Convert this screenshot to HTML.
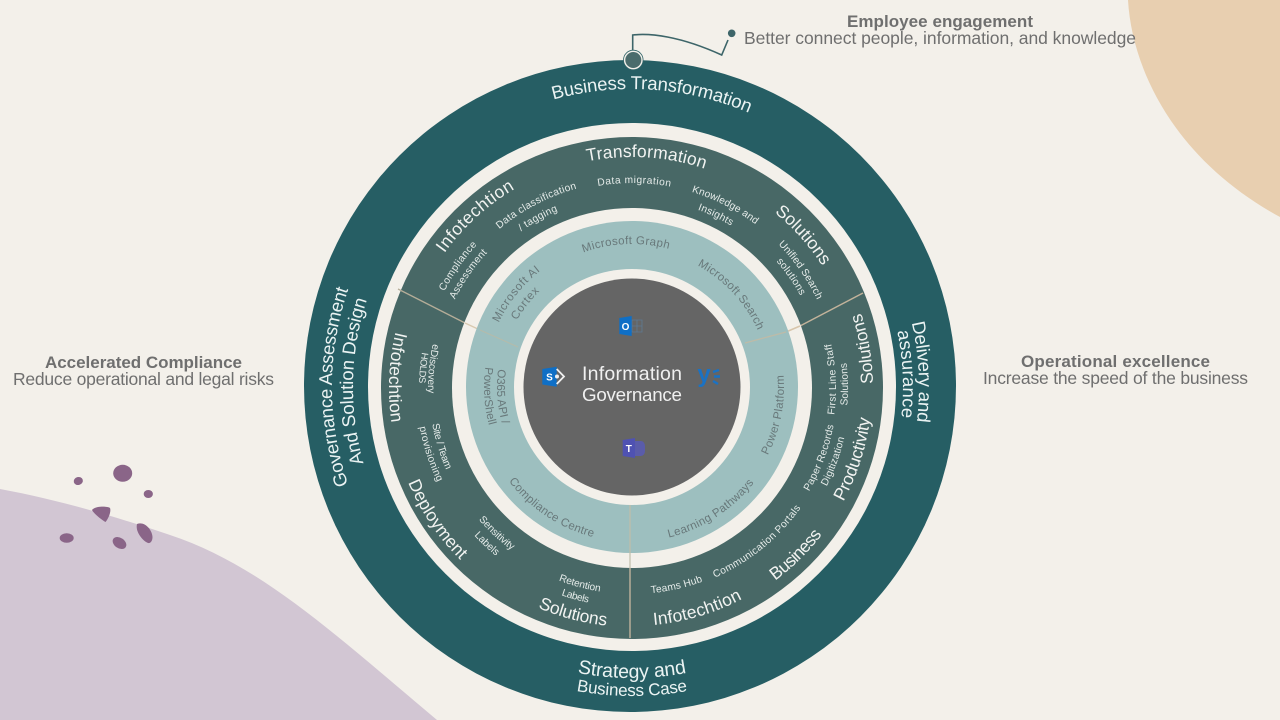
<!DOCTYPE html>
<html><head><meta charset="utf-8"><title>Information Governance</title>
<style>
html,body{margin:0;padding:0;background:#f3f0ea;width:1280px;height:720px;overflow:hidden}
svg{display:block;font-family:"Liberation Sans",sans-serif}
.m text,text.m{text-anchor:middle}
.o{fill:#eaf3f3;font-size:18.5px}
.r{fill:#f1f3f1;font-size:17.5px}
.s{fill:#e6ecea;font-size:10.2px}
.t{fill:#68787a;font-size:11.5px}
.h{fill:#6f6f6f;font-size:17px;font-weight:bold}
.d{fill:#6f6f6f;font-size:17.5px}
</style></head><body>
<svg width="1280" height="720" viewBox="0 0 1280 720" xmlns="http://www.w3.org/2000/svg">
<defs>
<path id="c298" d="M632,685A298,298 0 1 1 632,89A298,298 0 1 1 632,685"/>
<path id="c300" d="M632,687A300,300 0 1 1 632,87A300,300 0 1 1 632,687"/>
<path id="c279" d="M632,666A279,279 0 1 1 632,108A279,279 0 1 1 632,666"/>
<path id="c287" d="M632,674A287,287 0 1 1 632,100A287,287 0 1 1 632,674"/>
<path id="c271" d="M632,658A271,271 0 1 1 632,116A271,271 0 1 1 632,658"/>
<path id="c143" d="M632,530A143,143 0 1 1 632,244A143,143 0 1 1 632,530"/>
<path id="c138" d="M632,525A138,138 0 1 1 632,249A138,138 0 1 1 632,525"/>
<path id="c148" d="M632,535A148,148 0 1 1 632,239A148,148 0 1 1 632,535"/>
<path id="c133" d="M632,520A133,133 0 1 1 632,254A133,133 0 1 1 632,520"/>
<path id="a291" d="M632,96A291,291 0 1 0 632,678A291,291 0 1 0 632,96"/>
<path id="a309" d="M632,78A309,309 0 1 0 632,696A309,309 0 1 0 632,78"/>
<path id="a135" d="M632,252A135,135 0 1 0 632,522A135,135 0 1 0 632,252"/>
<path id="a148" d="M632,239A148,148 0 1 0 632,535A148,148 0 1 0 632,239"/>
<path id="a155" d="M632,232A155,155 0 1 0 632,542A155,155 0 1 0 632,232"/>
<path id="a152" d="M632,235A152,152 0 1 0 632,539A152,152 0 1 0 632,235"/>
<path id="c231" d="M632,619A231,231 0 1 1 632,157A231,231 0 1 1 632,619"/>
<path id="c226" d="M632,614A226,226 0 1 1 632,162A226,226 0 1 1 632,614"/>
<path id="c205" d="M632,593A205,205 0 1 1 632,183A205,205 0 1 1 632,593"/>
<path id="c207" d="M632,595A207,207 0 1 1 632,181A207,207 0 1 1 632,595"/>
<path id="c192" d="M632,580A192,192 0 1 1 632,196A192,192 0 1 1 632,580"/>
<path id="c211" d="M632,599A211,211 0 1 1 632,177A211,211 0 1 1 632,599"/>
<path id="c198" d="M632,586A198,198 0 1 1 632,190A198,198 0 1 1 632,586"/>
<path id="c190" d="M632,578A190,190 0 1 1 632,198A190,190 0 1 1 632,578"/>
<path id="a241" d="M632,147A241,241 0 1 0 632,629A241,241 0 1 0 632,147"/>
<path id="a240" d="M632,148A240,240 0 1 0 632,628A240,240 0 1 0 632,148"/>
<path id="a238" d="M632,150A238,238 0 1 0 632,626A238,238 0 1 0 632,150"/>
<path id="a239" d="M632,149A239,239 0 1 0 632,627A239,239 0 1 0 632,149"/>
<path id="a243" d="M632,145A243,243 0 1 0 632,631A243,243 0 1 0 632,145"/>
<path id="a204" d="M632,184A204,204 0 1 0 632,592A204,204 0 1 0 632,184"/>
<path id="a216" d="M632,172A216,216 0 1 0 632,604A216,216 0 1 0 632,172"/>
<path id="a205" d="M632,183A205,205 0 1 0 632,593A205,205 0 1 0 632,183"/>
<path id="a218" d="M632,170A218,218 0 1 0 632,606A218,218 0 1 0 632,170"/>
<path id="a207" d="M632,181A207,207 0 1 0 632,595A207,207 0 1 0 632,181"/>
<path id="a206" d="M632,182A206,206 0 1 0 632,594A206,206 0 1 0 632,182"/>
<path id="a219" d="M632,169A219,219 0 1 0 632,607A219,219 0 1 0 632,169"/>
<path id="a202" d="M632,186A202,202 0 1 0 632,590A202,202 0 1 0 632,186"/>
<path id="a203" d="M632,185A203,203 0 1 0 632,591A203,203 0 1 0 632,185"/>
<path id="a213" d="M632,175A213,213 0 1 0 632,601A213,213 0 1 0 632,175"/>
</defs>

<rect width="1280" height="720" fill="#f3f0ea"/>
<path d="M1128,0C1132,70 1175,160 1280,217L1280,0Z" fill="#e8cfb0"/>
<path d="M0,489C60,500 120,518 170,535C260,565 330,630 437,720L0,720Z" fill="#d2c6d3"/>

<g fill="#8a6588">
<ellipse cx="122.7" cy="473.3" rx="9.5" ry="8.5"/>
<ellipse cx="78.3" cy="481" rx="4.6" ry="4" transform="rotate(-15 78.3 481)"/>
<ellipse cx="148.3" cy="494" rx="4.6" ry="4"/>
<path d="M92,510C95,506 107,506 110,508C111.500,512 108,519 105.500,522C102,520 94,514 92,510Z"/>
<ellipse cx="66.700" cy="538" rx="7" ry="4.800"/>
<ellipse cx="119.500" cy="543" rx="7.500" ry="5.200" transform="rotate(35 119.500 543)"/>
<path d="M137,524C144,521 152,529 152.500,537C152.500,541 150.500,543.500 148,543C143,541 135,532 137,524Z"/>
</g>

<!-- rings -->
<circle cx="630" cy="386" r="326" fill="#265e64"/>
<circle cx="632" cy="387" r="264" fill="#f3f0ea"/>
<circle cx="632" cy="388" r="251" fill="#486866"/>
<line x1="398" y1="289" x2="465" y2="323" stroke="#b5ad98" stroke-width="1.300"/>
<line x1="863" y1="293" x2="800" y2="326" stroke="#c3b39b" stroke-width="1.500"/>
<line x1="630" y1="568" x2="630" y2="638" stroke="#b9ad99" stroke-width="1.500"/>
<circle cx="632" cy="388" r="180" fill="#f3f0ea"/>
<line x1="465" y1="323" x2="480" y2="330" stroke="#d8c9b0" stroke-width="1.300"/>
<line x1="800" y1="326" x2="786" y2="332" stroke="#d8c5ab" stroke-width="1.500"/>
<circle cx="632" cy="387" r="166" fill="#9dbfbf"/>
<line x1="480" y1="330" x2="518" y2="347" stroke="#b5bbaa" stroke-width="1"/>
<line x1="786" y1="332" x2="745" y2="343" stroke="#bdbba8" stroke-width="1.300"/>
<line x1="630" y1="505" x2="630" y2="568" stroke="#c0bdaa" stroke-width="1.200"/>
<circle cx="632" cy="387" r="118" fill="#f3f0ea"/>
<circle cx="632" cy="387" r="108.500" fill="#656565"/>

<!-- connector -->
<path d="M632.700,50V35C650,33 680,36 721.700,55L728,40" fill="none" stroke="#3d6569" stroke-width="1.600"/>
<circle cx="731.700" cy="33.300" r="3.800" fill="#3d6569"/>
<circle cx="633.300" cy="60" r="9.800" fill="#f3f0ea" stroke="#33666a" stroke-width="0.800"/>
<circle cx="633.300" cy="60" r="8" fill="#4b6c6c"/>

<!-- outer ring labels -->
<g class="m">
<text class="o"><textPath href="#c298" startOffset="51.08%" textLength="200">Business Transformation</textPath></text>
<text class="o"><textPath href="#c300" startOffset="25%" textLength="199">Governance Assessment</textPath></text>
<text class="o"><textPath href="#c279" startOffset="25.33%" textLength="166">And Solution Design</textPath></text>
<text class="o"><textPath href="#c287" startOffset="74.17%" textLength="100">Delivery and</textPath></text>
<text class="o"><textPath href="#c271" startOffset="74.25%" textLength="87">assurance</textPath></text>
<text class="o" style="font-size:19.5px"><textPath href="#a291" startOffset="50%" textLength="110">Strategy and</textPath></text>
<text class="o" style="font-size:17px"><textPath href="#a309" startOffset="50%" textLength="112">Business Case</textPath></text>

<!-- middle ring large labels -->
<text class="r"><textPath href="#c231" startOffset="51%" textLength="119">Transformation</textPath></text>
<text class="r"><textPath href="#c231" startOffset="38.22%" textLength="96">Infotechtion</textPath></text>
<text class="r"><textPath href="#c226" startOffset="63.39%" textLength="72">Solutions</textPath></text>
<text class="r"><textPath href="#a241" startOffset="77.67%" textLength="72">Solutions</textPath></text>
<text class="r"><textPath href="#a240" startOffset="70.06%" textLength="88">Productivity</textPath></text>
<text class="r"><textPath href="#a240" startOffset="62.36%" textLength="66">Business</textPath></text>
<text class="r"><textPath href="#a238" startOffset="54.56%" textLength="93">Infotechtion</textPath></text>
<text class="r"><textPath href="#a239" startOffset="45.92%" textLength="71">Solutions</textPath></text>
<text class="r"><textPath href="#a243" startOffset="34.44%" textLength="94">Deployment</textPath></text>
<text class="r"><textPath href="#a243" startOffset="24.28%" textLength="92">Infotechtion</textPath></text>

<!-- middle ring small labels -->
<text class="s"><textPath href="#c205" startOffset="50.17%" textLength="73">Data migration</textPath></text>
<text class="s"><textPath href="#c207" startOffset="42.31%" textLength="88">Data classification</textPath></text>
<text class="s"><textPath href="#c192" startOffset="41.94%" textLength="42">/ tagging</textPath></text>
<text class="s"><textPath href="#c211" startOffset="34.72%" textLength="57">Compliance</textPath></text>
<text class="s"><textPath href="#c198" startOffset="34.67%" textLength="57">Assessment</textPath></text>
<text class="s"><textPath href="#c205" startOffset="57.5%" textLength="72">Knowledge and</textPath></text>
<text class="s"><textPath href="#c190" startOffset="57.17%" textLength="37">Insights</textPath></text>
<text class="s"><textPath href="#c205" startOffset="65.28%" textLength="68">Unified Search</textPath></text>
<text class="s"><textPath href="#c192" startOffset="65.28%" textLength="42">solutions</textPath></text>
<text class="s"><textPath href="#a204" startOffset="75.69%" textLength="72">First Line Staff</textPath></text>
<text class="s"><textPath href="#a216" startOffset="75.28%" textLength="43">Solutions</textPath></text>
<text class="s"><textPath href="#a205" startOffset="69.33%" textLength="71">Paper Records</textPath></text>
<text class="s"><textPath href="#a218" startOffset="69.44%" textLength="52">Digitization</textPath></text>
<text class="s"><textPath href="#a207" startOffset="60.86%" textLength="112">Communication Portals</textPath></text>
<text class="s"><textPath href="#a206" startOffset="53.53%" textLength="53">Teams Hub</textPath></text>
<text class="s"><textPath href="#a206" startOffset="45.86%" textLength="43">Retention</textPath></text>
<text class="s"><textPath href="#a219" startOffset="45.78%" textLength="28">Labels</textPath></text>
<text class="s"><textPath href="#a202" startOffset="38.06%" textLength="45">Sensitivity</textPath></text>
<text class="s"><textPath href="#a216" startOffset="38.06%" textLength="30">Labels</textPath></text>
<text class="s"><textPath href="#a203" startOffset="29.72%" textLength="48">Site / Team</textPath></text>
<text class="s"><textPath href="#a216" startOffset="30.03%" textLength="58">provisioning</textPath></text>
<text class="s"><textPath href="#a204" startOffset="23.47%" textLength="50">eDiscovery</textPath></text>
<text class="s" style="font-size:9.5px"><textPath href="#a213" startOffset="23.47%" textLength="31">HOLDS</textPath></text>

<!-- teal ring labels -->
<text class="t"><textPath href="#c143" startOffset="49.31%" textLength="87">Microsoft Graph</textPath></text>
<text class="t"><textPath href="#c138" startOffset="63.06%" textLength="90">Microsoft Search</textPath></text>
<text class="t"><textPath href="#c148" startOffset="35.75%" textLength="67">Microsoft AI</textPath></text>
<text class="t"><textPath href="#c133" startOffset="35.56%" textLength="37">Cortex</textPath></text>
<text class="t"><textPath href="#a135" startOffset="26.17%" textLength="56">O365 API /</textPath></text>
<text class="t"><textPath href="#a148" startOffset="26%" textLength="59">PowerShell</textPath></text>
<text class="t"><textPath href="#a155" startOffset="40.67%" textLength="103">Compliance Centre</textPath></text>
<text class="t"><textPath href="#a155" startOffset="59.11%" textLength="103">Learning Pathways</textPath></text>
<text class="t"><textPath href="#a152" startOffset="71.92%" textLength="83">Power Platform</textPath></text>

<!-- center -->
<text x="632" y="380" fill="#f0f0f0" font-size="19.500" textLength="100">Information</text>
<text x="632" y="401" fill="#f0f0f0" font-size="18.800" textLength="100">Governance</text>
</g>

<!-- icons -->
<g>
<path d="M632,320h10v12h-10zM632,326h10M637,320v12" fill="none" stroke="#5f7a92" stroke-width="0.800"/>
<path d="M619.300,318L631.700,316V336L619.300,334Z" fill="#0f6fc6"/>
<text x="625.500" y="330" text-anchor="middle" fill="#fff" font-size="10" font-weight="bold">O</text>
<path d="M542.300,369L556.700,366.700V386.700L542.300,384.500Z" fill="#0f6fc6"/>
<text x="549.500" y="380.500" text-anchor="middle" fill="#fff" font-size="10" font-weight="bold">S</text>
<path d="M556.700,369L564,376.500L556.700,384" fill="none" stroke="#f0f0f0" stroke-width="1.800"/>
<circle cx="557" cy="376.500" r="2" fill="#f0f0f0"/>
<text x="704" y="382" text-anchor="middle" fill="#1a72c4" font-size="24" font-weight="bold">y</text>
<path d="M713,372l6,-2M714,376.500h6M713,381l5,3" stroke="#1a72c4" stroke-width="2.400" fill="none"/>
<path d="M634,441h7a4,5 0 0 1 4,5v5a4,5 0 0 1 -4,5h-7z" fill="#5a5caa"/>
<path d="M622.700,440L635,438V458L622.700,456Z" fill="#4f52b2"/>
<text x="628.800" y="452" text-anchor="middle" fill="#fff" font-size="10" font-weight="bold">T</text>
</g>

<!-- side text -->
<text class="h" x="847" y="27" textLength="186">Employee engagement</text>
<text class="d" x="744" y="44" textLength="392">Better connect people, information, and knowledge</text>
<text class="h" x="45" y="368" textLength="197">Accelerated Compliance</text>
<text class="d" x="13" y="385" textLength="261">Reduce operational and legal risks</text>
<text class="h" x="1021" y="367" textLength="189">Operational excellence</text>
<text class="d" x="983" y="384" textLength="265">Increase the speed of the business</text>
</svg>
</body></html>
